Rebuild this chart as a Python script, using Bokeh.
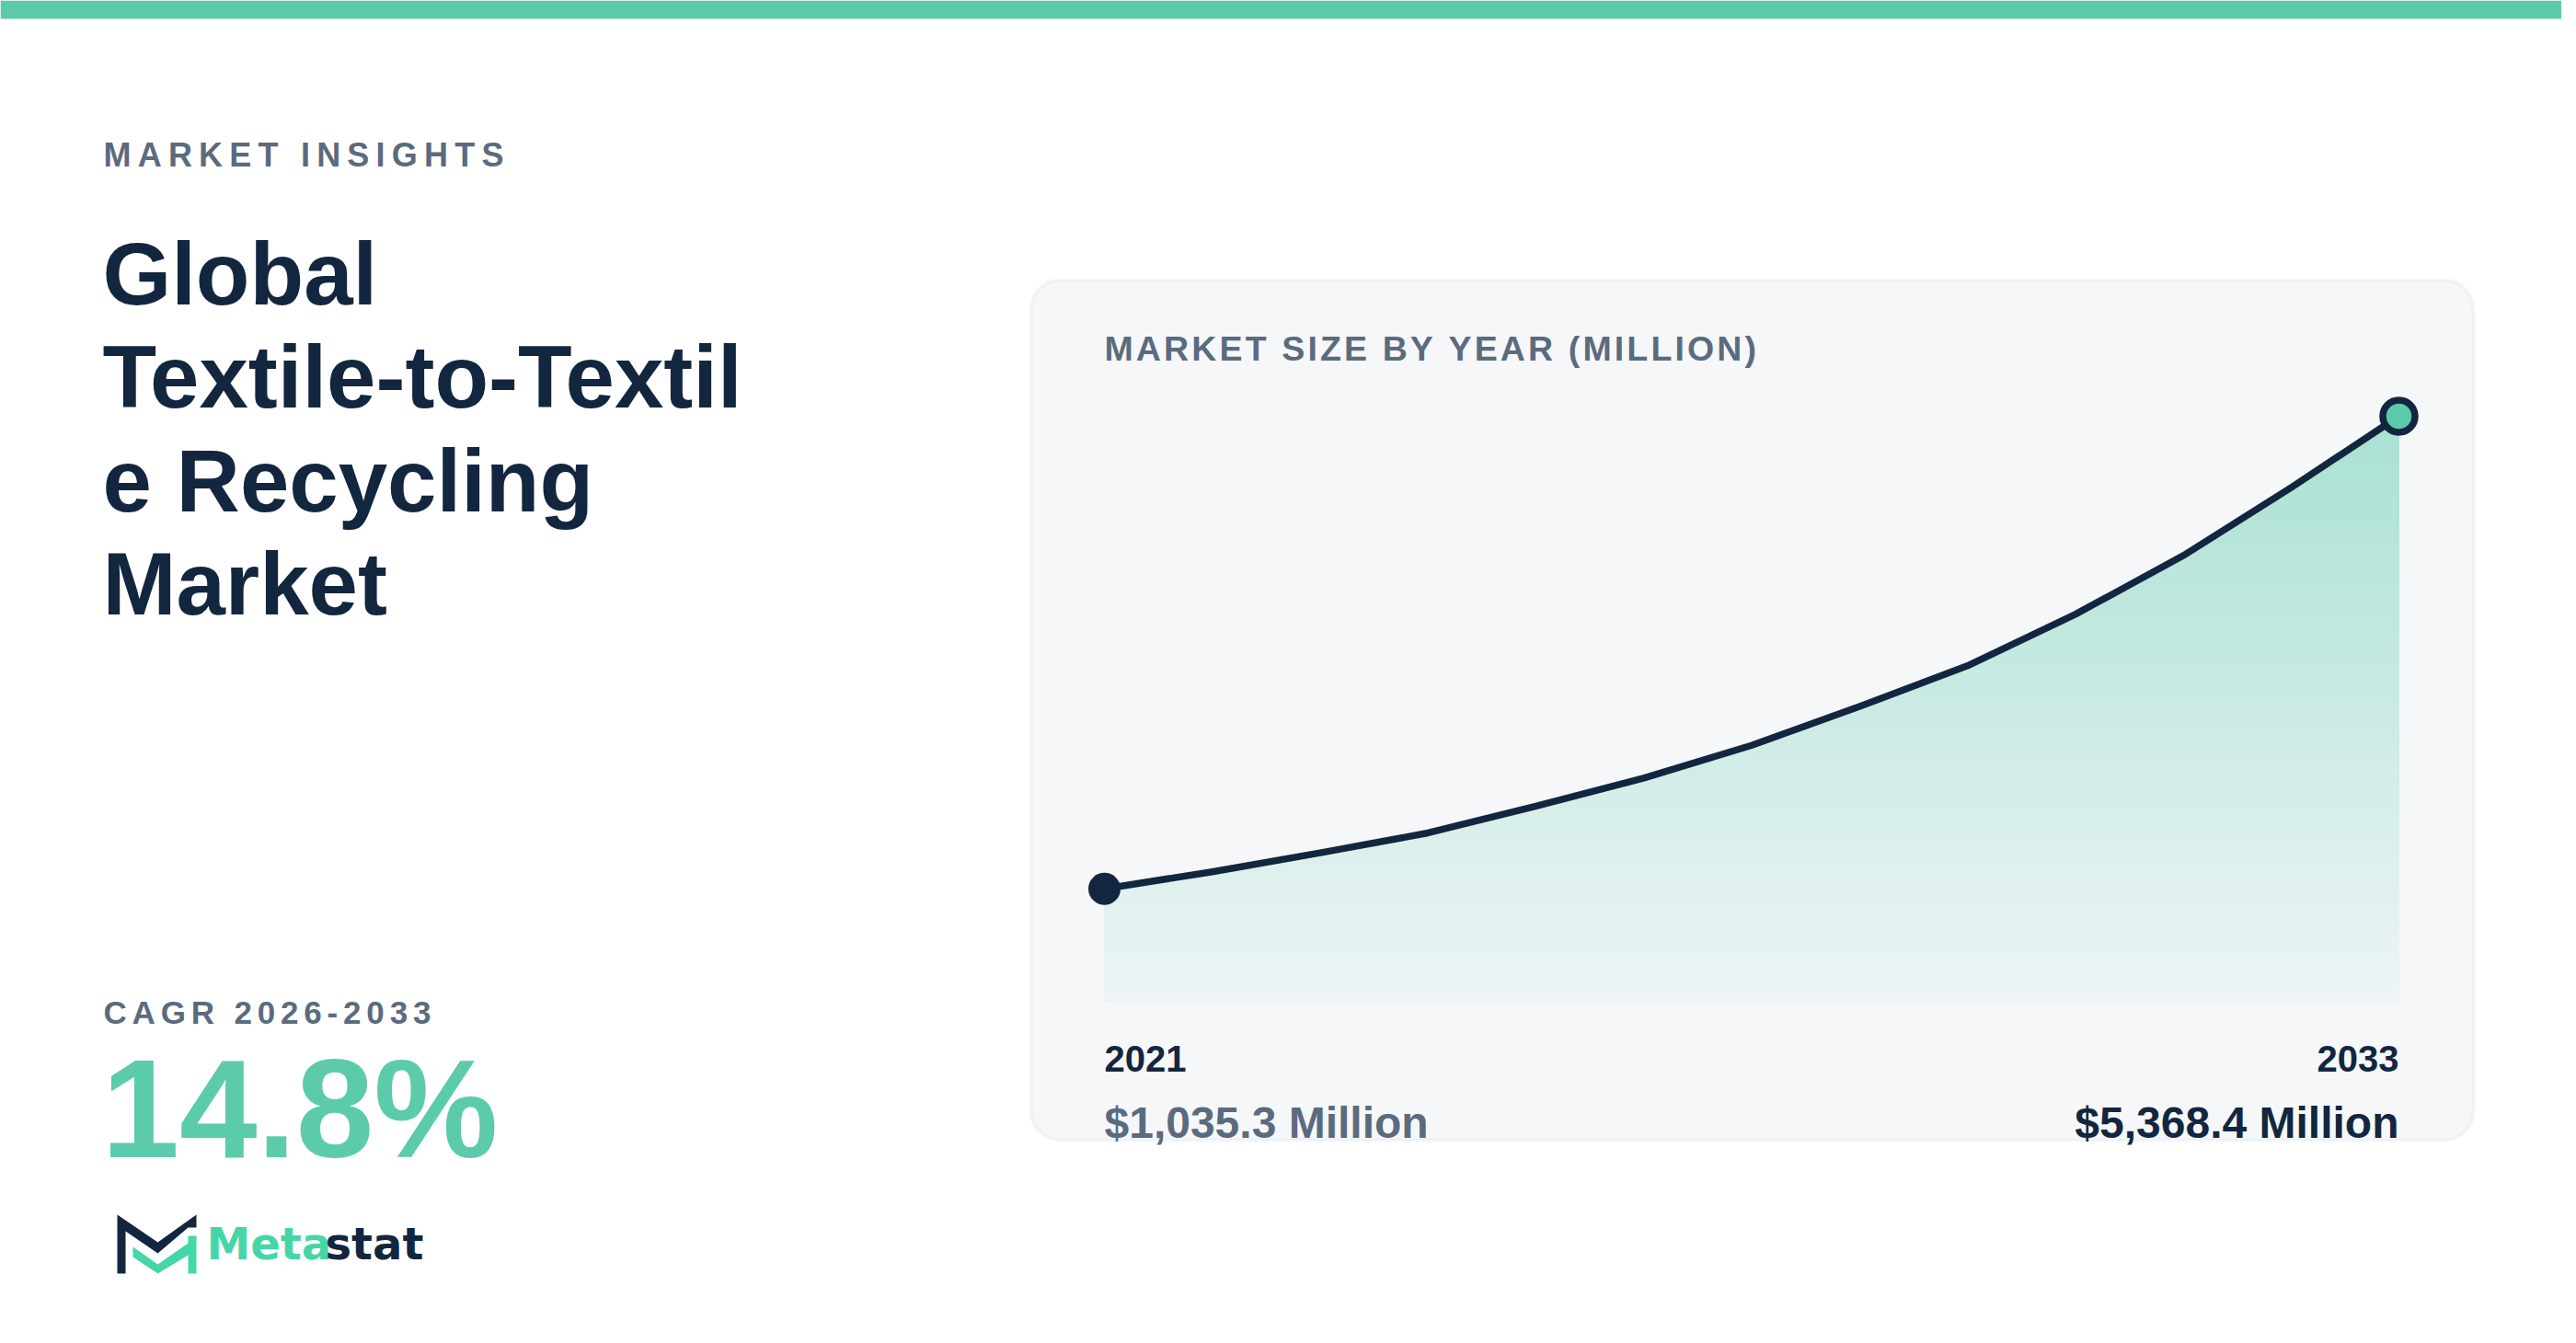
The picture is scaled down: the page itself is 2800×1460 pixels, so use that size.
import numpy as np
from bokeh.plotting import figure
from bokeh.models import Range1d, BoxAnnotation
from bokeh.embed import file_html
from bokeh.resources import INLINE
from bokeh.core.properties import value

# ---------------- data ----------------
years = [2021, 2022, 2023, 2024, 2025, 2026, 2027, 2028, 2029, 2030, 2031, 2032, 2033]
market_size = [1035.3, 1192, 1365, 1548, 1794, 2051, 2351, 2707, 3080, 3552, 4090, 4714, 5368.4]
eyebrow = "MARKET INSIGHTS"
title_lines = ["Global", "Textile-to-Textil", "e Recycling", "Market"]
cagr_label = "CAGR 2026-2033"
cagr_value = "14.8%"
chart_label = "MARKET SIZE BY YEAR (MILLION)"
brand_parts = ["Meta", "stat"]

# ---------------- style ----------------
NAVY = "#13263f"
SLATE = "#5b6b7e"
MINT = "#5ccbab"
LOGO_MINT = "#45d6a8"
CARD_BG = "#f5f7f9"
CARD_LINE = "#dce3e9"
FONT = value("Liberation Sans")

W, H = 2784, 1444


def mid_y(baseline, size):
    """vertical centre for a text whose alphabetic baseline should sit at `baseline`"""
    return baseline - 0.355 * size


def spaced(s, sp):
    return sp.join(s)


p = figure(width=W, height=H, x_range=Range1d(0, W), y_range=Range1d(H, 0),
           output_backend="svg", toolbar_location=None, min_border=0,
           x_axis_type=None, y_axis_type=None, outline_line_color=None,
           background_fill_color="white", border_fill_color="white")
p.grid.visible = False

# chart scales mapped onto the card's plotting region
x0px, x1px = 1200, 2607
kx = (x1px - x0px) / (years[-1] - years[0])
xs = years[0] - x0px / kx
p.extra_x_ranges = {"yr": Range1d(xs, xs + W / kx)}
vmax = max(market_size)
y0px, y1px = 1088.5, 452
ky = (y0px - y1px) / vmax
p.extra_y_ranges = {"val": Range1d((y0px - H) / ky, y0px / ky)}

# top accent bar
p.quad(left=[0], right=[W], top=[0], bottom=[20], fill_color=MINT, line_color=None)

# card
card = BoxAnnotation(left=1120, right=2688, top=304, bottom=1239,
                     border_radius=32, fill_color=CARD_BG, fill_alpha=1,
                     line_color=CARD_LINE, line_width=4, level="underlay")
p.add_layout(card)


# gradient area (bands from 0 up to each level, biggest first)
def hex2rgb(h):
    h = h.lstrip("#")
    return np.array([int(h[i:i + 2], 16) for i in (0, 2, 4)], dtype=float)


bg_rgb, mint_rgb = hex2rgb(CARD_BG), hex2rgb(MINT)
N = 90
levels = np.linspace(vmax, 0, N, endpoint=False)
step = vmax / N
tops, cols = [], []
for L in levels:
    mid = L - step / 2
    a = 0.05 + 0.45 * (mid / vmax)
    c = bg_rgb * (1 - a) + mint_rgb * a
    tops.append(L)
    cols.append("#%02x%02x%02x" % tuple(int(round(v)) for v in c))
p.quad(left=[years[0]] * N, right=[years[-1]] * N, bottom=[0] * N, top=tops,
       fill_color=cols, line_color=None, x_range_name="yr", y_range_name="val")
# mask above the curve (stroked in the card colour to hide seams)
p.patch(x=years + [years[-1], years[0]], y=market_size + [vmax, vmax],
        fill_color=CARD_BG, line_color=CARD_BG, line_width=3,
        x_range_name="yr", y_range_name="val")

# line and end markers
p.line(years, market_size, line_width=7.5, line_color=NAVY, line_join="round",
       line_cap="round", x_range_name="yr", y_range_name="val")
p.scatter([years[0]], [market_size[0]], size=35, fill_color=NAVY, line_color=None,
          x_range_name="yr", y_range_name="val")
p.scatter([years[-1]], [market_size[-1]], size=35, fill_color=MINT, line_color=NAVY,
          line_width=7.5, x_range_name="yr", y_range_name="val")

# chart label
p.text(x=[1200], y=[mid_y(392, 37.5)], text=[spaced(chart_label, "\u200a")], text_font=FONT,
       text_font_size="37.5px", text_font_style="bold", text_color=SLATE,
       text_baseline="middle", text_align="left")

# year and value labels
p.text(x=[years[0]], y=[mid_y(1165, 40)], text=[str(years[0])], text_font=FONT,
       text_font_size="40px", text_font_style="bold", text_color=NAVY,
       text_baseline="middle", text_align="left", x_range_name="yr")
p.text(x=[years[-1]], y=[mid_y(1165, 40)], text=[str(years[-1])], text_font=FONT,
       text_font_size="40px", text_font_style="bold", text_color=NAVY,
       text_baseline="middle", text_align="right", x_range_name="yr")
p.text(x=[years[0]], y=[mid_y(1237, 48)], text=["${:,.1f} Million".format(market_size[0])],
       text_font=FONT, text_font_size="48px", text_font_style="bold", text_color=SLATE,
       text_baseline="middle", text_align="left", x_range_name="yr")
p.text(x=[years[-1]], y=[mid_y(1237, 48)], text=["${:,.1f} Million".format(market_size[-1])],
       text_font=FONT, text_font_size="48px", text_font_style="bold", text_color=NAVY,
       text_baseline="middle", text_align="right", x_range_name="yr")

# left column texts
p.text(x=[112], y=[mid_y(181, 36)], text=[spaced(eyebrow, "\u2009")], text_font=FONT,
       text_font_size="36px", text_font_style="bold", text_color=SLATE,
       text_baseline="middle", text_align="left")
lh = 112.5
p.text(x=[111] * len(title_lines), y=[mid_y(331 + i * lh, 96) for i in range(len(title_lines))],
       text=title_lines, text_font=FONT, text_font_size="96px", text_font_style="bold",
       text_color=NAVY, text_baseline="middle", text_align="left")
p.text(x=[112], y=[mid_y(1112, 35)], text=[spaced(cagr_label, "\u2006")], text_font=FONT,
       text_font_size="35px", text_font_style="bold", text_color=SLATE,
       text_baseline="middle", text_align="left")
p.text(x=[110], y=[mid_y(1258, 152)], text=[cagr_value], text_font=FONT,
       text_font_size="152px", text_font_style="bold", text_color=MINT,
       text_baseline="middle", text_align="left")

# logo mark
navy_mark_x = [127, 171, 213, 213, 204, 171, 136, 136, 127]
navy_mark_y = [1320, 1350, 1320, 1334, 1334, 1362, 1338, 1384, 1384]
mint_mark_x = [144, 171, 204, 204, 213, 213, 204, 204, 171, 144]
mint_mark_y = [1355, 1374, 1351, 1343, 1343, 1384, 1384, 1364, 1384, 1366]
p.patch(navy_mark_x, navy_mark_y, fill_color=NAVY, line_color=None)
p.patch(mint_mark_x, mint_mark_y, fill_color=LOGO_MINT, line_color=None)
p.text(x=[224], y=[mid_y(1369, 48)], text=[brand_parts[0]], text_font=value("DejaVu Sans"),
       text_font_size="48px", text_font_style="bold", text_color=LOGO_MINT,
       text_baseline="middle", text_align="left")
p.text(x=[353], y=[mid_y(1369, 48)], text=[brand_parts[1]], text_font=value("DejaVu Sans"),
       text_font_size="48px", text_font_style="bold", text_color=NAVY,
       text_baseline="middle", text_align="left")

open("out.html", "w").write(file_html(p, INLINE))
